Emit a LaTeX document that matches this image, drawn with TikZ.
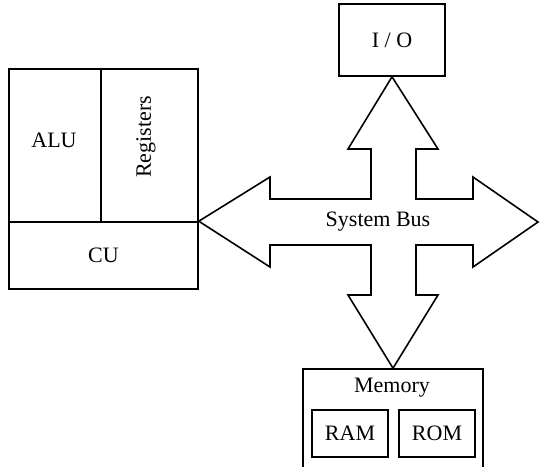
\documentclass[tikz,border=0pt]{standalone}
\usepackage{fontspec}
\setmainfont{Liberation Serif}
\begin{document}
\begin{tikzpicture}[x=1pt,y=-1pt,line width=1.6pt,
  box/.style={draw,inner sep=0pt,font=\fontsize{22}{26}\selectfont},
  lbl/.style={inner sep=0pt,font=\fontsize{22}{26}\selectfont},
  bus/.style={draw,line join=miter}]
\useasboundingbox (0,0) rectangle (540,466);
\clip (-1,-1) rectangle (541,467);
% CPU
\node[box,minimum width=92pt,minimum height=153pt] (alu) at (55,145.5) {};
\node[lbl] (alut) at (54,140) {ALU};
\node[box,minimum width=97pt,minimum height=153pt] (reg) at (149.5,145.5) {};
\node[lbl,rotate=90] (regt) at (146,137) {Registers};
\node[box,minimum width=189pt,minimum height=67pt] (cu) at (103.5,255.5) {CU};
% I/O
\node[box,minimum width=106pt,minimum height=72pt] (io) at (392,40) {I / O};
% Memory
\node[box,minimum width=180pt,minimum height=101pt] (mem) at (393,419.5) {};
\node[lbl] (memt) at (392,388) {Memory};
\node[box,minimum width=76pt,minimum height=47pt] (ram) at (350,433.5) {RAM};
\node[box,minimum width=76pt,minimum height=47pt] (rom) at (437,433.5) {ROM};
% System bus
\draw[bus] (cu.north east) -- (270,177) -- (270,199) -- (371,199) -- (371,149)
  -- (348,149) -- (io.south) -- (438,149) -- (416,149) -- (416,199)
  -- (473,199) -- (473,177) -- (538,222) -- (473,267) -- (473,245)
  -- (416,245) -- (416,295) -- (438,295) -- (mem.north) -- (348,295)
  -- (371,295) -- (371,245) -- (270,245) -- (270,267) -- cycle;
\node[lbl] (bust) at (378,222) {System Bus};
\end{tikzpicture}
\end{document}
